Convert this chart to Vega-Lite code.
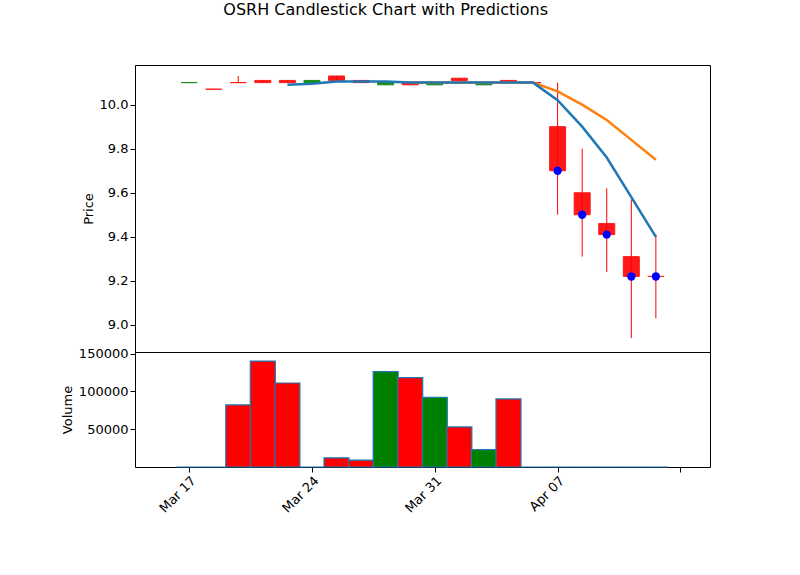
{
"$schema":"https://vega.github.io/schema/vega-lite/v6.json",
"padding":{"left":60,"top":1,"right":5,"bottom":5},
"bounds":"flush",
"title":{"text":"OSRH Candlestick Chart with Predictions","fontSize":16,"fontWeight":"normal","font":"DejaVu Sans","anchor":"middle","offset":47},
"config":{"view":{"stroke":"black"},"axis":{"labelFont":"DejaVu Sans","titleFont":"DejaVu Sans","labelFontSize":13,"titleFontSize":13,"titleFontWeight":"normal","grid":false,"domain":false,"tickColor":"black","labelColor":"black"},"concat":{"spacing":0}},
"spacing":0,
"datasets":{"d":[
{"i":0,"open":10.10,"close":10.10,"high":10.10,"low":10.10,"volume":0,"dir":"up"},
{"i":1,"open":10.07,"close":10.07,"high":10.07,"low":10.07,"volume":0,"dir":"down"},
{"i":2,"open":10.10,"close":10.10,"high":10.13,"low":10.10,"volume":82000,"dir":"down"},
{"i":3,"open":10.11,"close":10.10,"high":10.11,"low":10.10,"volume":140000,"dir":"down"},
{"i":4,"open":10.11,"close":10.10,"high":10.11,"low":10.10,"volume":111000,"dir":"down","ma":10.09},
{"i":5,"open":10.10,"close":10.11,"high":10.11,"low":10.10,"volume":0,"dir":"up","ma":10.095},
{"i":6,"open":10.13,"close":10.11,"high":10.13,"low":10.11,"volume":12000,"dir":"down","ma":10.105},
{"i":7,"open":10.11,"close":10.10,"high":10.11,"low":10.10,"volume":9000,"dir":"down","ma":10.105},
{"i":8,"open":10.09,"close":10.10,"high":10.10,"low":10.09,"volume":126000,"dir":"up","ma":10.105},
{"i":9,"open":10.10,"close":10.09,"high":10.10,"low":10.09,"volume":118000,"dir":"down","ma":10.10,"pred":10.10},
{"i":10,"open":10.09,"close":10.10,"high":10.10,"low":10.09,"volume":92000,"dir":"up","ma":10.10,"pred":10.10},
{"i":11,"open":10.12,"close":10.11,"high":10.12,"low":10.11,"volume":53000,"dir":"down","ma":10.10,"pred":10.10},
{"i":12,"open":10.09,"close":10.10,"high":10.10,"low":10.09,"volume":23000,"dir":"up","ma":10.10,"pred":10.10},
{"i":13,"open":10.11,"close":10.10,"high":10.11,"low":10.10,"volume":90000,"dir":"down","ma":10.10,"pred":10.10},
{"i":14,"open":10.10,"close":10.10,"high":10.10,"low":10.10,"volume":0,"dir":"down","ma":10.10,"pred":10.10},
{"i":15,"open":9.90,"close":9.70,"high":10.10,"low":9.50,"volume":0,"dir":"down","ma":10.02,"pred":10.06,"dot":9.70},
{"i":16,"open":9.60,"close":9.50,"high":9.80,"low":9.31,"volume":0,"dir":"down","ma":9.90,"pred":10.00,"dot":9.50},
{"i":17,"open":9.46,"close":9.41,"high":9.62,"low":9.24,"volume":0,"dir":"down","ma":9.76,"pred":9.93,"dot":9.41},
{"i":18,"open":9.31,"close":9.22,"high":9.57,"low":8.94,"volume":0,"dir":"down","ma":9.58,"pred":9.84,"dot":9.22},
{"i":19,"open":9.22,"close":9.22,"high":9.41,"low":9.03,"volume":0,"dir":"down","ma":9.40,"pred":9.75,"dot":9.22}
]},
"vconcat":[
{"width":575,"height":287,"data":{"name":"d"},
"encoding":{"x":{"field":"i","type":"quantitative","scale":{"domain":[-2,21],"nice":false,"zero":false},"axis":{"values":[0,5,10,15,20],"labels":false,"title":null,"ticks":false}}},
"layer":[
{"mark":{"type":"rule","strokeWidth":1},"encoding":{"y":{"field":"low","type":"quantitative","scale":{"domain":[8.877,10.18],"nice":false,"zero":false},"axis":{"values":[9.0,9.2,9.4,9.6,9.8,10.0],"format":".1f","title":"Price"}},"y2":{"field":"high"},"color":{"field":"dir","type":"nominal","scale":{"domain":["up","down"],"range":["#008000","#ff0000"]},"legend":null}}},
{"mark":{"type":"bar","size":16,"strokeWidth":1,"opacity":0.9},"encoding":{"y":{"field":"open","type":"quantitative"},"y2":{"field":"close"},"color":{"field":"dir","type":"nominal","legend":null},"stroke":{"field":"dir","type":"nominal","scale":{"domain":["up","down"],"range":["#008000","#ff0000"]},"legend":null}}},
{"mark":{"type":"line","color":"#ff7f0e","strokeWidth":2.5},"encoding":{"y":{"field":"pred","type":"quantitative"}}},
{"mark":{"type":"line","color":"#1f77b4","strokeWidth":2.5},"encoding":{"y":{"field":"ma","type":"quantitative"}}},
{"mark":{"type":"point","filled":true,"color":"blue","size":70,"opacity":1},"encoding":{"y":{"field":"dot","type":"quantitative"}}}
]},
{"width":575,"height":115,"data":{"name":"d"},
"mark":{"type":"bar","size":25,"stroke":"#1f77b4","strokeWidth":1.2},
"encoding":{"x":{"field":"i","type":"quantitative","scale":{"domain":[-2,21],"nice":false,"zero":false},"axis":{"values":[0,5,10,15,20],"labelExpr":"['Mar 17','Mar 24','Mar 31','Apr 07',''][datum.value/5]","labelAngle":-45,"labelAlign":"right","labelBaseline":"top","title":null}},
"y":{"field":"volume","type":"quantitative","scale":{"domain":[0,152000],"nice":false},"axis":{"values":[50000,100000,150000],"format":"d","title":"Volume"}},
"color":{"field":"dir","type":"nominal","scale":{"domain":["up","down"],"range":["#008000","#ff0000"]},"legend":null}}}
]}
